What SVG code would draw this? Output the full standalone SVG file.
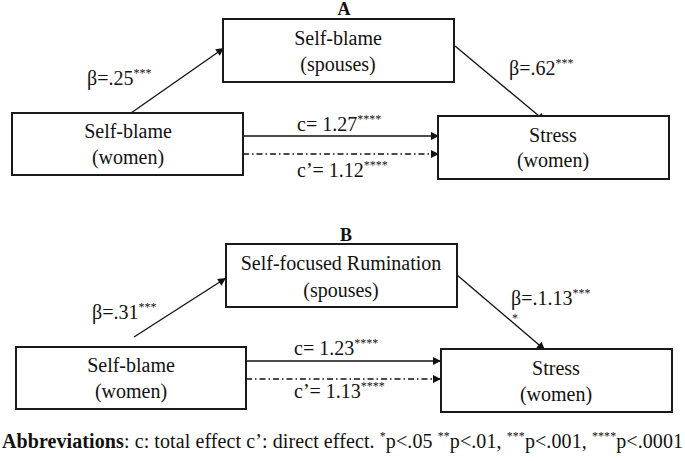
<svg xmlns="http://www.w3.org/2000/svg" width="685" height="461" viewBox="0 0 685 461">
<defs>
<style>
.box{fill:#fff;stroke:#1a1a1a;stroke-width:2}
.t{font-family:"Liberation Serif","Times New Roman",serif;font-size:20px;fill:#111}
.c{text-anchor:middle}
.b{font-weight:bold}
.h{font-size:18px}
.s{font-size:12px}
.ln{stroke:#111;stroke-width:1.3;fill:none}
.dd{stroke-dasharray:6 3 1.5 3}
</style>
<marker id="ah" viewBox="0 0 10 10" refX="10" refY="5" markerWidth="10" markerHeight="8" markerUnits="userSpaceOnUse" orient="auto">
<path d="M0,0 L10,5 L0,10 Z" fill="#111"/>
</marker>
</defs>
<rect width="685" height="461" fill="#fff"/>

<g id="connectors">
<line class="ln" x1="131" y1="113" x2="224" y2="48" marker-end="url(#ah)"/>
<line class="ln" x1="455" y1="46" x2="545" y2="121" marker-end="url(#ah)"/>
<line class="ln" x1="243" y1="136" x2="439" y2="136" marker-end="url(#ah)"/>
<line class="ln dd" x1="243" y1="154" x2="439" y2="154" marker-end="url(#ah)"/>
<line class="ln" x1="134" y1="337" x2="226" y2="278" marker-end="url(#ah)"/>
<line class="ln" x1="457" y1="275" x2="545" y2="350" marker-end="url(#ah)"/>
<line class="ln" x1="246" y1="361" x2="441" y2="361" marker-end="url(#ah)"/>
<line class="ln dd" x1="246" y1="379" x2="441" y2="379" marker-end="url(#ah)"/>
</g>

<g id="labels">
<text class="t h c b" x="344" y="15">A</text>
<text class="t" x="87" y="85">β=.25<tspan class="s" dy="-8">***</tspan></text>
<text class="t" x="509" y="75">β=.62<tspan class="s" dy="-8">***</tspan></text>
<text class="t" x="297" y="131">c= 1.27<tspan class="s" dy="-8">****</tspan></text>
<text class="t" x="297" y="177">c’= 1.12<tspan class="s" dy="-8">****</tspan></text>
<text class="t h c b" x="346" y="241">B</text>
<text class="t" x="92" y="319">β=.31<tspan class="s" dy="-8">***</tspan></text>
<text class="t" x="511" y="305">β=.1.13<tspan class="s" dy="-8">***</tspan></text>
<text class="t s" x="512" y="322">*</text>
<text class="t" x="294" y="355">c= 1.23<tspan class="s" dy="-8">****</tspan></text>
<text class="t" x="294" y="398">c’= 1.13<tspan class="s" dy="-8">****</tspan></text>
<text class="t" x="2" y="448" textLength="681" lengthAdjust="spacing"><tspan class="b">Abbreviations</tspan>: c: total effect c’: direct effect. <tspan class="s" dy="-8">*</tspan><tspan dy="8">p&lt;.05 </tspan><tspan class="s" dy="-8">**</tspan><tspan dy="8">p&lt;.01, </tspan><tspan class="s" dy="-8">***</tspan><tspan dy="8">p&lt;.001, </tspan><tspan class="s" dy="-8">****</tspan><tspan dy="8">p&lt;.0001</tspan></text>
</g>

<g id="nodeA_med">
<rect class="box" x="223" y="19" width="231" height="63"/>
<text class="t c" x="338" y="45">Self-blame</text>
<text class="t c" x="338" y="71">(spouses)</text>
</g>
<g id="nodeA_x">
<rect class="box" x="12" y="113" width="231" height="62"/>
<text class="t c" x="128" y="138">Self-blame</text>
<text class="t c" x="128" y="164">(women)</text>
</g>
<g id="nodeA_y">
<rect class="box" x="438" y="116" width="231" height="63"/>
<text class="t c" x="553" y="142">Stress</text>
<text class="t c" x="553" y="167">(women)</text>
</g>
<g id="nodeB_med">
<rect class="box" x="226" y="244" width="231" height="63"/>
<text class="t c" x="341" y="270">Self-focused Rumination</text>
<text class="t c" x="341" y="297">(spouses)</text>
</g>
<g id="nodeB_x">
<rect class="box" x="16" y="347" width="230" height="62"/>
<text class="t c" x="131" y="372">Self-blame</text>
<text class="t c" x="131" y="398">(women)</text>
</g>
<g id="nodeB_y">
<rect class="box" x="441" y="349" width="231" height="63"/>
<text class="t c" x="556" y="375">Stress</text>
<text class="t c" x="556" y="401">(women)</text>
</g>
</svg>
